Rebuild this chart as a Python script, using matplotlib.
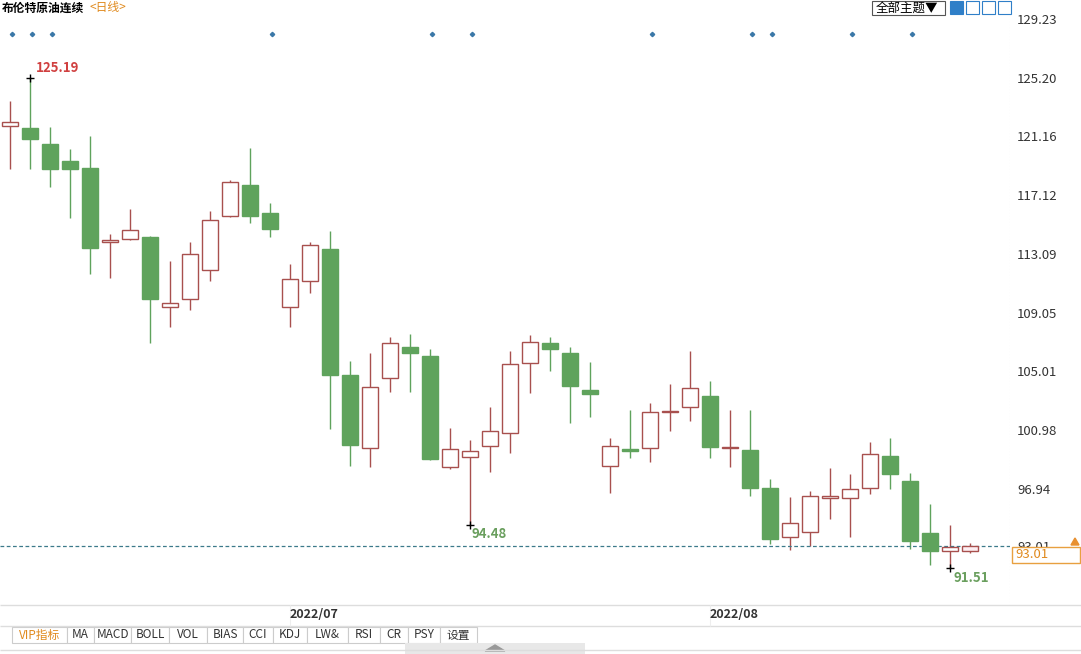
import matplotlib.pyplot as plt
from matplotlib.patches import Rectangle, Polygon

plt.rcParams['font.family'] = ['Noto Sans CJK SC', 'DejaVu Sans']

# daily candles (open, high, low, close)
opens = [121.88, 121.74, 120.64, 119.47, 118.99, 113.90, 114.11, 114.25, 109.44, 109.99,
         111.98, 115.69, 117.82, 115.90, 109.44, 111.22, 113.42, 104.76, 99.74, 104.56,
         106.69, 106.07, 98.44, 99.13, 99.88, 100.78, 105.59, 106.96, 106.27, 103.73,
         98.51, 99.68, 99.74, 102.22, 102.56, 103.32, 99.74, 99.61, 97.00, 93.63,
         93.97, 96.31, 96.31, 97.00, 99.19, 97.48, 93.90, 92.67, 92.67]
highs = [123.59, 125.19, 121.81, 120.30, 121.19, 114.45, 116.17, 114.32, 112.60, 113.90,
         116.03, 118.16, 120.36, 116.58, 112.39, 113.90, 114.66, 105.72, 106.27, 107.37,
         107.58, 106.55, 101.12, 100.29, 102.56, 106.41, 107.51, 107.37, 106.69, 105.66,
         100.43, 102.36, 102.84, 104.14, 106.41, 104.35, 102.36, 102.36, 97.61, 96.38,
         96.79, 98.37, 97.96, 100.16, 100.43, 98.03, 95.90, 94.45, 93.22]
lows = [118.92, 118.92, 117.68, 115.55, 111.70, 111.43, 114.04, 106.96, 108.06, 109.23,
        111.22, 115.62, 115.21, 114.25, 108.06, 110.40, 101.05, 98.51, 98.44, 103.59,
        103.59, 98.92, 98.30, 94.48, 98.10, 99.40, 103.53, 105.04, 101.46, 101.88,
        96.65, 99.06, 98.78, 100.91, 101.60, 99.06, 98.44, 96.45, 93.15, 92.73,
        93.01, 94.86, 93.63, 96.58, 96.93, 92.80, 91.70, 91.51, 92.53]
closes = [122.15, 120.98, 118.92, 118.92, 113.49, 114.04, 114.73, 109.99, 109.71, 113.08,
          115.42, 118.03, 115.69, 114.80, 111.36, 113.70, 104.76, 99.95, 103.94, 106.96,
          106.27, 98.99, 99.68, 99.54, 100.91, 105.52, 107.03, 106.55, 104.01, 103.46,
          99.88, 99.54, 102.22, 102.29, 103.87, 99.81, 99.81, 97.00, 93.49, 94.59,
          96.45, 96.45, 96.93, 99.33, 97.96, 93.35, 92.67, 92.94, 93.01]
y_ticks = [129.23, 125.20, 121.16, 117.12, 113.09, 109.05, 105.01, 100.98, 96.94, 93.01]
month_labels = ['2022/07', '2022/08']
month_pos = [15.2, 36.2]
marker_pos = [0, 1, 2, 13, 21, 23, 32, 37, 38, 42, 45]
last_price = 93.01
tabs = ['VIP指标', 'MA', 'MACD', 'BOLL', 'VOL', 'BIAS', 'CCI', 'KDJ', 'LW&', 'RSI', 'CR', 'PSY', '设置']

W, H = 1081, 654
fig = plt.figure(figsize=(W / 100, H / 100), dpi=100)
ax = fig.add_axes([0, (H - 605) / H, 1010 / W, 593 / H])
red, green = '#a8504e', '#5fa35c'
for i, (o, h, l, c) in enumerate(zip(opens, highs, lows, closes)):
    up = c >= o
    col = red if up else green
    ax.vlines(i, l, h, color=col, lw=1)
    bot, top = min(o, c), max(o, c)
    face = '#fdeef2' if i == len(opens) - 1 else 'white'
    ax.add_patch(Rectangle((i - 0.4, bot), 0.8, max(top - bot, 0.05),
                           facecolor=face if up else green, edgecolor=col, lw=1, zorder=3))
ax.set_xlim(-0.5, 50)
ax.set_ylim(88.96, 129.71)
ax.set_xticks([])
ax.yaxis.tick_right()
ax.set_yticks(y_ticks)
ax.set_yticklabels(['%.2f' % v for v in y_ticks], fontsize=9.5, color='#333333')
ax.tick_params(axis='y', length=0, pad=5)
for s in ax.spines.values():
    s.set_visible(False)
ax.axvline(50, color='#e6e6e6', lw=0.8, ls=':')
ax.axhline(last_price, color='#3c7a8a', lw=0.9, ls=(0, (3, 2)))

# max / min marks
imax = highs.index(max(highs))
ax.plot(imax, max(highs), marker='+', color='k', ms=6)
ax.text(imax + 0.3, max(highs) + 0.4, '%.2f' % max(highs), color='#d04040', fontsize=9.5, fontweight='bold')
ilo = lows.index(min(lows[:30]))
ax.plot(ilo, lows[ilo], marker='+', color='k', ms=6)
ax.text(ilo + 0.1, lows[ilo] - 0.9, '%.2f' % lows[ilo], color='#6a9f5e', fontsize=9.5, fontweight='bold')
imin = lows.index(min(lows))
ax.plot(imin, lows[imin], marker='+', color='k', ms=6)
ax.text(imin + 0.2, lows[imin] - 1.0, '%.2f' % lows[imin], color='#6a9f5e', fontsize=9.5, fontweight='bold')
for m in marker_pos:
    ax.plot(m + 0.1, 128.2, marker='D', ms=2.2, color='#3a78a8')

# figure-level decorations in pixel coordinates
ov = fig.add_axes([0, 0, 1, 1], facecolor='none')
ov.set_xlim(0, W)
ov.set_ylim(H, 0)
ov.axis('off')
ov.text(2, 8, '布伦特原油连续', fontsize=8.5, fontweight='bold', va='center')
ov.text(89, 8, '<日线>', fontsize=8.5, color='#e08a1e', va='center')
ov.add_patch(Rectangle((872, 1), 73, 14, facecolor='white', edgecolor='#555555', lw=0.8))
ov.text(876, 8, '全部主题▼', fontsize=9, va='center', family=['Noto Sans CJK SC', 'DejaVu Sans'])
for k, bx in enumerate([950, 966, 982, 998]):
    ov.add_patch(Rectangle((bx, 1), 13, 13, facecolor='#2f7fc8' if k == 0 else 'white',
                           edgecolor='#2f7fc8', lw=0.8))
ov.add_patch(Rectangle((1012, 547), 68, 16, facecolor='white', edgecolor='#e8a040', lw=1))
ov.text(1015, 555, '%.2f' % last_price, color='#e08a1e', fontsize=9.5, va='center')
ov.add_patch(Polygon([[1071, 545], [1079, 545], [1075, 538]], color='#e89030'))
ov.hlines([605, 626, 650], 0, W, color='#dddddd', lw=1)
for lab, p in zip(month_labels, month_pos):
    xp = 10 + 20 * p
    ov.text(xp, 615, lab, fontsize=9, fontweight='bold', ha='center', va='center', color='#333333')
ov.vlines([290, 710], 605, 626, color='#eeeeee', lw=0.8)
x0 = 12
widths = [55, 27, 37, 38, 38, 36, 30, 34, 41, 32, 28, 32, 37]
for t, w in zip(tabs, widths):
    ov.add_patch(Rectangle((x0, 627), w, 16, facecolor='white', edgecolor='#cccccc', lw=0.8))
    ov.text(x0 + w / 2, 635, t, fontsize=8.5, ha='center', va='center',
            color='#e08a1e' if t == 'VIP指标' else '#333333', family=['Noto Sans CJK SC', 'DejaVu Sans'])
    x0 += w
ov.add_patch(Rectangle((405, 643), 180, 11, facecolor='#e8e8e8', edgecolor='none'))
ov.add_patch(Polygon([[485, 651], [505, 651], [495, 645]], color='#999999'))

fig.savefig('out.png', dpi=100)
